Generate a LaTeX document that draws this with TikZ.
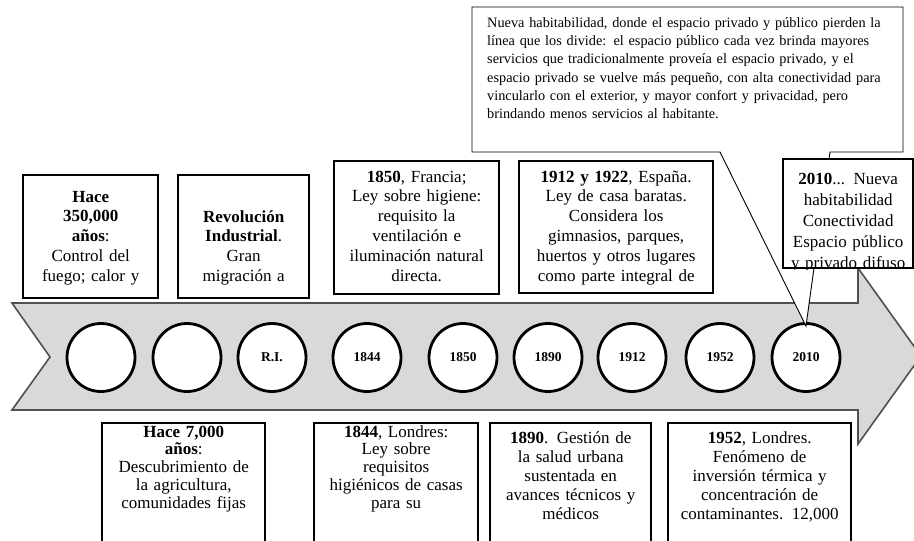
\documentclass[tikz,border=0pt]{standalone}
\usepackage{fontspec}
\setmainfont{Liberation Serif}
\usetikzlibrary{positioning}

\definecolor{flecha}{HTML}{D9D9D9}
\definecolor{borde}{HTML}{505050}

\tikzset{
  evbox/.style={draw, line width=2.4pt, fill=white, inner sep=0pt, anchor=north west},
  evtext/.style={inner sep=0pt, align=center, anchor=base},
  hito/.style={circle, draw, line width=2.8pt, fill=white, minimum size=68pt, inner sep=0pt,
    font=\fontsize{13.5}{13.5}\selectfont\bfseries},
  nota/.style={draw, line width=0.9pt, fill=white, line join=miter},
}

% #1 name, #2 corner, #3 width, #4 height, #5 first baseline, #6 line skip, #7 text
\newcommand{\evento}[7]{%
  \node[evbox, minimum width=#3, minimum height=#4] (#1) at #2 {};
  \begin{scope}
    \clip (#1.south west) rectangle (#1.north east);
    \node[evtext, text width=#3pt, font=\fontsize{17}{#6}\selectfont] (#1-txt)
      at ([yshift=-#5pt]#1.north) {#7};
  \end{scope}}

\begin{document}
\begin{tikzpicture}[x=1pt, y=-1pt]
  \useasboundingbox (0,0) rectangle (914,541);
  \clip (0,0) rectangle (914,541);

  % flecha del tiempo
  \draw[fill=flecha, draw=borde, line width=1.6pt]
    (12,303) -- (858,303) -- (858,268) -- (921,356) -- (858,444)
    -- (858,410) -- (12,410) -- (50,357) -- cycle;

  % hitos
  \foreach \x/\lab/\nm in {101//h1, 187//h2, 272/R.I./hri, 367/1844/h1844,
      463/1850/h1850, 548/1890/h1890, 632/1912/h1912, 720/1952/h1952, 806/2010/h2010}
    \node[hito] (\nm) at (\x,357.5) {\lab};

  % eventos de arriba
  \evento{fuego}{(22,174)}{135}{123}{28}{19.8}{\textbf{Hace}\\\textbf{350,000}\\\textbf{años}:\\Control del\\fuego; calor y}
  \evento{revolucion}{(177,174)}{131}{123}{48}{19.8}{\textbf{Revolución}\\\textbf{Industrial}.\\Gran\\migración a}
  \evento{francia}{(333,160)}{165}{133}{22}{19.8}{\textbf{1850}, Francia;\\Ley sobre higiene:\\requisito la\\ventilación e\\iluminación natural\\directa.}
  \evento{espana}{(518,160)}{194}{132}{22}{19.8}{\textbf{1912 y 1922}, España.\\Ley de casa baratas.\\Considera los\\gimnasios, parques,\\huertos y otros lugares\\como parte integral de}

  % eventos de abajo
  \evento{agricultura}{(101,422)}{163}{140}{15}{17.9}{\textbf{Hace 7,000}\\\textbf{años}:\\Descubrimiento de\\la agricultura,\\comunidades fijas}
  \evento{londres}{(313,422)}{164}{140}{15}{17.9}{\textbf{1844}, Londres:\\Ley sobre\\requisitos\\higiénicos de casas\\para su}
  \evento{salud}{(489,422)}{161}{140}{21}{19.2}{\textbf{1890}. Gestión de\\la salud urbana\\sustentada en\\avances técnicos y\\médicos}
  \evento{smog}{(667,422)}{183}{140}{21}{19.2}{\textbf{1952}, Londres.\\Fenómeno de\\inversión térmica y\\concentración de\\contaminantes. 12,000}

  % nota sobre 2010
  \coordinate (punta) at ([yshift=-4pt]h2010.north);
  \draw[nota] (472,7) -- (903,7) -- (903,152) -- (830,152) -- (punta)
    -- (720,152) -- (472,152) -- cycle;
  \node[anchor=base west, inner sep=0pt, text width=402pt, align=left,
    font=\fontsize{14.3}{18.4}\selectfont] (notatxt) at (487,27) {%
    \makebox[402pt][s]{Nueva habitabilidad, donde el espacio privado y público pierden la}\\
    \makebox[402pt][s]{línea que los divide: el espacio público cada vez brinda mayores}\\
    \makebox[402pt][s]{servicios que tradicionalmente proveía el espacio privado, y el}\\
    \makebox[402pt][s]{espacio privado se vuelve más pequeño, con alta conectividad para}\\
    \makebox[402pt][s]{vincularlo con el exterior, y mayor confort y privacidad, pero}\\
    brindando menos servicios al habitante.};

  \evento{e2010}{(782,158)}{130}{109}{26}{21}{\textbf{2010}... Nueva\\habitabilidad\\Conectividad\\Espacio público\\y privado difuso}
\end{tikzpicture}
\end{document}
